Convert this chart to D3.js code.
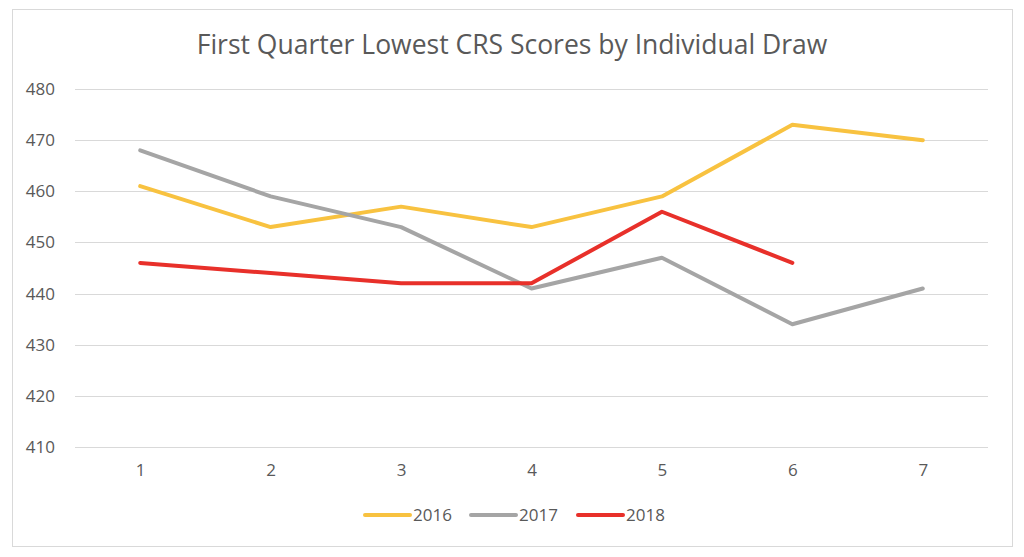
<!DOCTYPE html>
<html>
<head>
<meta charset="utf-8">
<script src="https://cdn.jsdelivr.net/npm/d3@7"></script>
<style>
  html, body { margin: 0; padding: 0; background: #fff; }
  #chart { width: 1024px; height: 557px; }
</style>
</head>
<body>
<div id="chart"></div>
<script>
// -----------------------------
// DATA
// -----------------------------
const DRAWS = [1, 2, 3, 4, 5, 6, 7];
const Y_TICKS = [410, 420, 430, 440, 450, 460, 470, 480];
const SCORES_2016 = [461, 453, 457, 453, 459, 473, 470];
const SCORES_2017 = [468, 459, 453, 441, 447, 434, 441];
const SCORES_2018 = [446, 444, 442, 442, 456, 446];
const YEARS = ["2016", "2017", "2018"];
const COLORS = ["#F8C240", "#A5A5A5", "#E8302A"];

const series = [SCORES_2016, SCORES_2017, SCORES_2018].map((vals, i) => ({
  name: YEARS[i],
  color: COLORS[i],
  values: vals.map((v, j) => ({ draw: DRAWS[j], value: v }))
}));

// -----------------------------
// LAYOUT
// -----------------------------
const width = 1024, height = 557;
const plot = { left: 75, right: 988, top: 89, bottom: 447 };
const FONT = "'Open Sans', 'Noto Sans', sans-serif";
const TEXT_COLOR = "#595959";

const svg = d3.select("#chart").append("svg")
  .attr("width", width)
  .attr("height", height);

// chart border
svg.append("rect")
  .attr("x", 12.5).attr("y", 9.5)
  .attr("width", 1000).attr("height", 537)
  .attr("fill", "#fff")
  .attr("stroke", "#d9d9d9")
  .attr("stroke-width", 1);

// title
svg.append("text")
  .attr("x", 512)
  .attr("y", 54)
  .attr("text-anchor", "middle")
  .attr("font-family", FONT)
  .attr("font-size", 26.5)
  .attr("fill", TEXT_COLOR)
  .text("First Quarter Lowest CRS Scores by Individual Draw");

// scales
const x = d3.scalePoint()
  .domain(DRAWS)
  .range([plot.left, plot.right])
  .padding(0.5);

const y = d3.scaleLinear()
  .domain([410, 480])
  .range([plot.bottom, plot.top]);

// gridlines
svg.append("g")
  .selectAll("line")
  .data(Y_TICKS)
  .join("line")
  .attr("x1", plot.left).attr("x2", plot.right)
  .attr("y1", d => Math.round(y(d)) + 0.5)
  .attr("y2", d => Math.round(y(d)) + 0.5)
  .attr("stroke", "#d9d9d9")
  .attr("stroke-width", 1);

// y axis labels
const yAxis = svg.append("g")
  .attr("transform", `translate(${plot.left - 20},0)`)
  .call(d3.axisLeft(y).tickValues(Y_TICKS).tickSize(0).tickPadding(0));
yAxis.select(".domain").remove();
yAxis.selectAll("text")
  .attr("font-family", FONT)
  .attr("font-size", 17)
  .attr("fill", TEXT_COLOR);

// x axis labels
const xAxis = svg.append("g")
  .attr("transform", `translate(0,${plot.bottom + 17})`)
  .call(d3.axisBottom(x).tickSize(0).tickPadding(0));
xAxis.select(".domain").remove();
xAxis.selectAll("text")
  .attr("font-family", FONT)
  .attr("font-size", 17)
  .attr("fill", TEXT_COLOR);

// lines
const line = d3.line()
  .x(d => x(d.draw))
  .y(d => y(d.value));

svg.append("g")
  .selectAll("path")
  .data(series)
  .join("path")
  .attr("d", d => line(d.values))
  .attr("fill", "none")
  .attr("stroke", d => d.color)
  .attr("stroke-width", 4)
  .attr("stroke-linejoin", "round")
  .attr("stroke-linecap", "round");

// legend
const legendX = [365, 471, 578];
const legend = svg.append("g")
  .selectAll("g")
  .data(series)
  .join("g")
  .attr("transform", (d, i) => `translate(${legendX[i]},515)`);

legend.append("line")
  .attr("x1", 0).attr("x2", 45)
  .attr("stroke", d => d.color)
  .attr("stroke-width", 4)
  .attr("stroke-linecap", "round");

legend.append("text")
  .attr("x", 48)
  .attr("dy", "0.35em")
  .attr("font-family", FONT)
  .attr("font-size", 17)
  .attr("fill", TEXT_COLOR)
  .text(d => d.name);
</script>
</body>
</html>
